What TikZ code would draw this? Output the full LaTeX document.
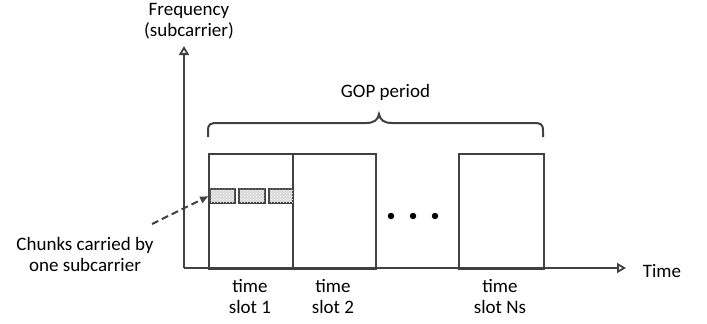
\documentclass[tikz,border=0pt]{standalone}
\usepackage{fontspec}
\setmainfont{Carlito}
\usetikzlibrary{arrows.meta,patterns,decorations.pathreplacing}
\definecolor{ln}{HTML}{404040}
\begin{document}
\begin{tikzpicture}[x=1pt,y=-1pt,
  lbl/.style={font=\fontsize{19}{21}\selectfont, text=black, align=center, inner sep=0pt},
  slotbox/.style={draw=ln, line width=2pt},
  chunkbox/.style={draw=ln, line width=1.8pt, fill=gray!30, postaction={pattern=crosshatch dots, pattern color=white}},
  axis/.style={draw=ln, line width=2pt, -{Triangle[open,length=9pt,width=10pt,line width=1.8pt]}},
  dot/.style={circle, fill=black, inner sep=0pt, minimum size=6.5pt}]
\useasboundingbox (0,0) rectangle (707,324);
% axes
\coordinate (o) at (184,268);
\coordinate (ytop) at (184,46);
\coordinate (xend) at (626,268);
% slots
\node[slotbox, minimum width=84pt, minimum height=115pt, inner sep=0pt, anchor=north west] (s1) at (208,153) {};
\node[slotbox, minimum width=83pt, minimum height=115pt, inner sep=0pt, anchor=north west] (s2) at (292,153) {};
\node[slotbox, minimum width=85pt, minimum height=115pt, inner sep=0pt, anchor=north west] (sn) at (458,153) {};
\draw[axis] (o) -- (ytop);
\draw[axis] (o) -- (xend);
% chunks
\node[chunkbox, minimum width=25pt, minimum height=14pt, inner sep=0pt, anchor=north west] (c1) at (209,188) {};
\node[chunkbox, minimum width=26pt, minimum height=14pt, inner sep=0pt, anchor=north west] (c2) at (238,188) {};
\node[chunkbox, minimum width=24pt, minimum height=14pt, inner sep=0pt, anchor=north west] (c3) at (268,188) {};
% dots
\node[dot] (d1) at (391,216) {};
\node[dot] (d2) at (413,216) {};
\node[dot] (d3) at (435,216) {};
% brace
\coordinate (bl) at (208,137);
\coordinate (br) at (543,137);
\draw[ln, line width=2pt] (bl) -- (208,131) .. controls (208,124) and (210,123) .. (218,123) -- (366,123) .. controls (374,123) and (378,120) .. (379,114) .. controls (380,120) and (384,123) .. (392,123) -- (533,123) .. controls (541,123) and (543,124) .. (543,131) -- (br);
% labels
\node[lbl] (freq) at (189,21) {Frequency\\(subcarrier)};
\node[lbl, anchor=base] (gop) at (385.5,97) {GOP period};
\node[lbl, anchor=base] (time) at (662,277) {Time};
\node[lbl] (t1) at (250,296) {time\\slot 1};
\node[lbl] (t2) at (333,296) {time\\slot 2};
\node[lbl] (tn) at (500,296) {time\\slot Ns};
\node[lbl] (chk) at (85,254) {Chunks carried by\\one subcarrier};
\coordinate (ds) at (152,224);
\draw[ln, line width=2pt, dash pattern=on 7pt off 4pt, -{Latex[length=9pt,width=8pt]}] (ds) -- (c1.west);
\end{tikzpicture}
\end{document}
